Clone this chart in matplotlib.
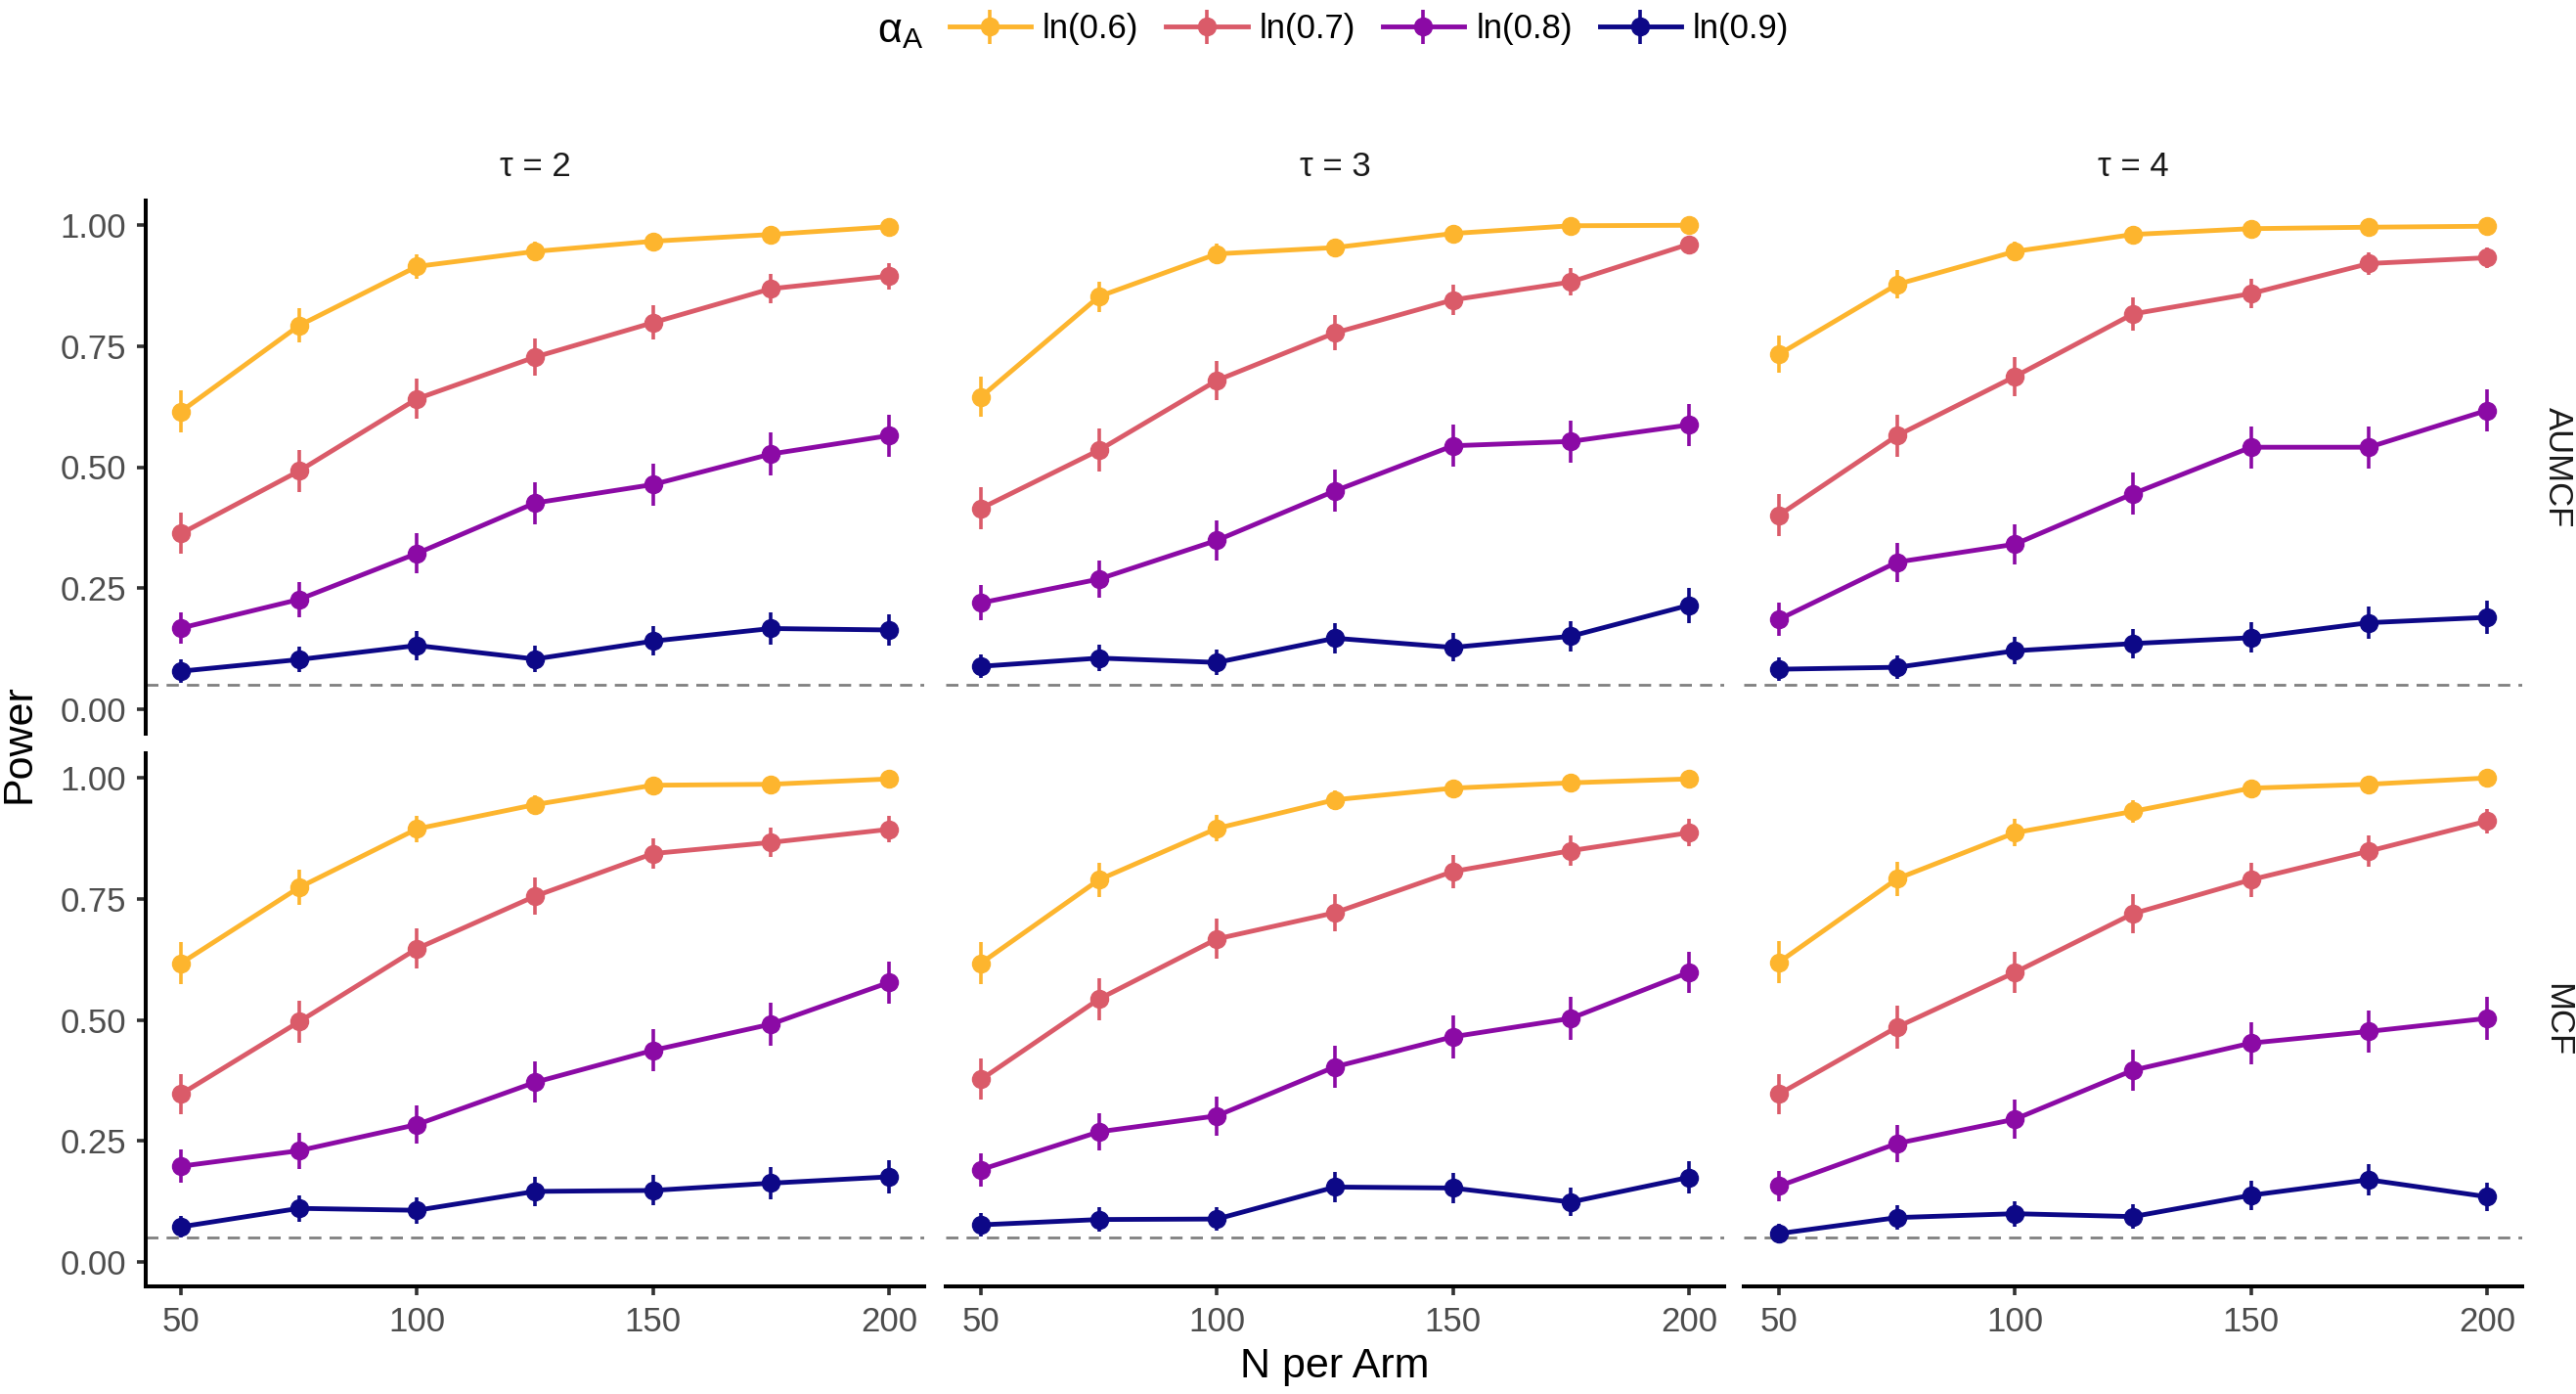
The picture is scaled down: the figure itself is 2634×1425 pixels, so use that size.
import numpy as np
import matplotlib
matplotlib.use("Agg")
import matplotlib.pyplot as plt

plt.rcParams['font.family'] = ['Liberation Sans', 'DejaVu Sans']

# sample sizes per arm
n_per_arm = [50, 75, 100, 125, 150, 175, 200]
taus = [2, 3, 4]
methods = ["AUMCF", "MCF"]
alpha_labels = ["ln(0.6)", "ln(0.7)", "ln(0.8)", "ln(0.9)"]
colors = ["#FDB52E", "#DA5B69", "#8B0AA5", "#0D0887"]
n_sims = 500  # simulation replicates behind each power estimate
alpha_level = 0.05

# power: [method][tau] -> one row per alpha
aumcf_tau2 = [[0.615, 0.792, 0.914, 0.945, 0.966, 0.980, 0.996],
              [0.363, 0.492, 0.641, 0.727, 0.798, 0.868, 0.894],
              [0.168, 0.227, 0.322, 0.426, 0.464, 0.527, 0.565],
              [0.079, 0.103, 0.132, 0.104, 0.141, 0.167, 0.164]]
aumcf_tau3 = [[0.645, 0.852, 0.940, 0.953, 0.982, 0.998, 0.999],
              [0.415, 0.535, 0.679, 0.777, 0.845, 0.882, 0.960],
              [0.220, 0.269, 0.349, 0.451, 0.544, 0.553, 0.587],
              [0.089, 0.106, 0.097, 0.147, 0.128, 0.151, 0.215]]
aumcf_tau4 = [[0.733, 0.877, 0.945, 0.980, 0.992, 0.995, 0.997],
              [0.401, 0.565, 0.687, 0.816, 0.858, 0.920, 0.932],
              [0.186, 0.304, 0.341, 0.445, 0.541, 0.541, 0.617],
              [0.083, 0.087, 0.121, 0.136, 0.148, 0.179, 0.190]]
mcf_tau2 = [[0.617, 0.773, 0.894, 0.944, 0.984, 0.986, 0.997],
            [0.347, 0.496, 0.647, 0.755, 0.843, 0.866, 0.893],
            [0.198, 0.230, 0.284, 0.371, 0.437, 0.491, 0.577],
            [0.073, 0.111, 0.107, 0.146, 0.148, 0.163, 0.176]]
mcf_tau3 = [[0.617, 0.789, 0.895, 0.954, 0.978, 0.989, 0.997],
            [0.377, 0.543, 0.667, 0.721, 0.806, 0.849, 0.886],
            [0.191, 0.269, 0.302, 0.403, 0.465, 0.503, 0.598],
            [0.077, 0.088, 0.089, 0.155, 0.153, 0.124, 0.175]]
mcf_tau4 = [[0.619, 0.791, 0.886, 0.930, 0.978, 0.986, 0.999],
            [0.347, 0.485, 0.598, 0.719, 0.789, 0.848, 0.910],
            [0.157, 0.245, 0.295, 0.396, 0.452, 0.476, 0.503],
            [0.059, 0.092, 0.100, 0.094, 0.138, 0.170, 0.135]]

power = {"AUMCF": [aumcf_tau2, aumcf_tau3, aumcf_tau4],
         "MCF": [mcf_tau2, mcf_tau3, mcf_tau4]}

W, H = 2634, 1425
fig = plt.figure(figsize=(W / 100, H / 100), dpi=100)

lefts = [149, 967, 1783]
tops = [205, 770]
pw, ph = 796, 545

tick_col = "#333333"
handles = []
for r, m in enumerate(methods):
    for c, tau in enumerate(taus):
        ax = fig.add_axes([lefts[c] / W, 1 - (tops[r] + ph) / H, pw / W, ph / H])
        ax.axhline(alpha_level, color="#808080", lw=2.0, ls=(0, (4.5, 3)), zorder=1)
        for k in range(4):
            p = np.array(power[m][c][k])
            err = 1.96 * np.sqrt(p * (1 - p) / n_sims)
            h = ax.errorbar(n_per_arm, p, yerr=err, color=colors[k], lw=3.5,
                            elinewidth=2.6, capsize=0, marker="o", ms=13,
                            label=alpha_labels[k], zorder=2 + k)
            if r == 0 and c == 0:
                handles.append(h)
        ax.set_xlim(42.5, 207.5)
        ax.set_ylim(-0.05, 1.05)
        ax.set_xticks([50, 100, 150, 200])
        ax.set_yticks([0, 0.25, 0.5, 0.75, 1.0])
        ax.set_yticklabels(["0.00", "0.25", "0.50", "0.75", "1.00"])
        for s in ["top", "right"]:
            ax.spines[s].set_visible(False)
        for s in ["left", "bottom"]:
            ax.spines[s].set_linewidth(2.9)
            ax.spines[s].set_color("black")
        ax.tick_params(length=6.5, width=2.6, color=tick_col, labelsize=25,
                       labelcolor="#4D4D4D", pad=8)
        if c != 0:
            ax.spines["left"].set_visible(False)
            ax.tick_params(left=False, labelleft=False)
        if r == 0:
            ax.spines["bottom"].set_visible(False)
            ax.tick_params(bottom=False, labelbottom=False)
            ax.text(0.5, 1 + 35 / ph, "τ = %d" % tau, transform=ax.transAxes,
                    ha="center", va="center", fontsize=25, color="#1A1A1A")
        if c == 2:
            ax.text(1 + 36 / pw, 0.5, m, transform=ax.transAxes, rotation=-90,
                    ha="center", va="center", fontsize=25, color="#1A1A1A")

fig.text(20 / W, 1 - 760 / H, "Power", rotation=90, ha="center", va="center", fontsize=31)
fig.text(1365 / W, 1 - 1397 / H, "N per Arm", ha="center", va="center", fontsize=31)

fig.text(921 / W, 1 - 32 / H, r"α$_\mathregular{A}$", ha="center", va="center", fontsize=31)
fig.legend(handles=handles, labels=alpha_labels, loc="center",
           bbox_to_anchor=(1400 / W, 1 - 30 / H), ncol=4, frameon=False,
           fontsize=25, handlelength=2.4, handletextpad=0.35, columnspacing=0.8)

fig.savefig("out.png", dpi=100)
